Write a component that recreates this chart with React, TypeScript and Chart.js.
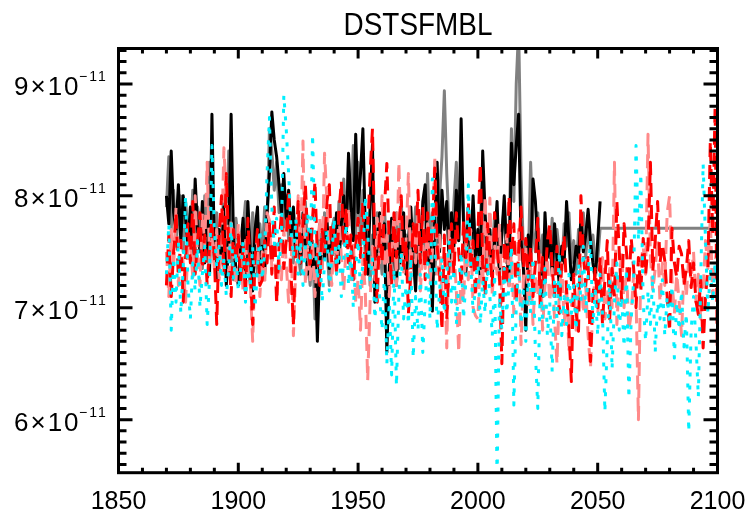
import React, { useEffect, useRef } from "react";
import { Chart, registerables } from "chart.js";

Chart.register(...registerables);

// ---------------- data (values in units of 1e-11) ----------------
const TITLE = "DSTSFMBL";
const START_YEAR = 1870;
const X_MIN = 1850;
const X_MAX = 2100;
const Y_MIN = 5.526;
const Y_MAX = 9.317;
const X_TICK_LABELS = [1850, 1900, 1950, 2000, 2050, 2100];
const Y_TICK_LABELS = [6, 7, 8, 9];
const Y_EXPONENT = "−11";

// black solid, 1870-2051
const blackValues = [
  8.00, 7.75, 8.40, 7.85, 7.70, 8.10, 7.60, 8.00, 7.80, 7.55,
  7.90, 7.45, 8.15, 7.70, 7.50, 7.95, 7.40, 7.80, 7.30, 8.73,
  7.50, 7.25, 7.70, 7.40, 7.90, 7.20, 7.60, 8.73, 7.60, 7.35,
  7.20, 7.55, 7.80, 7.25, 7.95, 7.50, 7.15, 7.70, 7.90, 7.30,
  7.55, 7.30, 7.85, 8.20, 8.75, 8.50, 8.35, 8.10, 7.85, 8.20,
  7.80, 8.05, 7.65, 7.90, 7.50, 7.75, 7.40, 7.85, 7.55, 7.30,
  7.70, 7.35, 7.55, 6.70, 7.40, 7.60, 7.45, 7.80, 7.35, 7.65,
  7.50, 7.85, 7.40, 7.75, 8.00, 7.55, 8.38, 7.90, 7.60, 8.55,
  7.85, 8.20, 8.60, 7.70, 7.30, 7.90, 8.46, 7.05, 7.60, 7.85,
  7.50, 7.75, 6.60, 7.35, 7.80, 7.55, 7.20, 7.65, 7.40, 7.85,
  7.30, 7.60, 7.90, 7.45, 7.15, 7.70, 7.50, 7.95, 8.10, 7.40,
  7.65, 6.97, 7.80, 8.30, 7.50, 8.05, 7.70, 7.95, 7.40, 7.85,
  7.55, 8.05, 7.60, 8.69, 7.75, 7.30, 7.90, 7.50, 8.00, 7.45,
  7.70, 7.25, 8.40, 7.85, 7.45, 7.70, 7.30, 7.60, 7.95, 7.35,
  7.65, 8.00, 7.50, 7.20, 8.47, 8.10, 8.45, 8.73, 7.60, 7.35,
  6.80, 7.65, 7.40, 8.15, 7.95, 7.55, 7.30, 7.10, 7.85, 7.45,
  7.65, 7.30, 7.75, 7.45, 7.20, 7.55, 7.40, 7.95, 7.60, 7.25,
  7.35, 7.55, 7.45, 7.80, 7.50, 7.65, 7.88, 7.60, 7.40, 7.25,
  7.60, 7.95,
];

// gray solid, 1870-2051, then held to 2100
const grayValues = [
  7.90, 8.35, 7.70, 8.05, 7.55, 7.85, 8.00, 7.50, 7.95, 7.70,
  7.60, 8.05, 7.45, 7.90, 7.75, 7.35, 8.00, 7.55, 8.30, 7.70,
  7.40, 7.85, 7.30, 7.65, 8.05, 7.45, 8.40, 7.55, 7.25, 7.80,
  7.60, 7.35, 7.70, 7.95, 7.40, 7.20, 7.85, 7.50, 7.30, 7.75,
  7.45, 7.90, 7.65, 8.60, 8.40, 8.05, 8.30, 7.85, 8.10, 7.70,
  8.00, 7.60, 7.85, 7.40, 7.75, 7.50, 7.30, 7.65, 7.95, 7.40,
  7.20, 7.60, 6.90, 7.50, 7.75, 7.35, 7.85, 7.55, 7.20, 7.70,
  7.80, 7.35, 7.95, 7.60, 8.15, 7.70, 8.35, 7.80, 8.45, 7.65,
  8.30, 7.55, 8.05, 7.45, 7.80, 7.20, 7.65, 7.40, 7.85, 7.55,
  7.30, 7.90, 7.45, 7.70, 7.25, 7.60, 7.85, 7.35, 7.95, 7.50,
  7.65, 7.35, 7.80, 7.55, 7.90, 7.30, 7.75, 7.45, 7.60, 8.20,
  7.50, 7.85, 7.30, 7.70, 8.00, 8.35, 8.94, 8.20, 7.70, 7.45,
  7.95, 8.30, 7.60, 8.20, 7.85, 7.40, 7.75, 7.55, 7.90, 7.35,
  7.60, 7.80, 8.15, 7.50, 7.30, 7.65, 7.45, 7.85, 7.55, 7.25,
  7.70, 7.90, 7.40, 7.65, 8.60, 7.95, 9.00, 9.50, 8.20, 7.50,
  7.60, 7.35, 8.30, 7.70, 7.50, 7.85, 7.40, 7.65, 7.25, 7.55,
  7.45, 7.80, 7.30, 7.70, 7.50, 7.35, 7.75, 7.55, 7.85, 7.40,
  7.60, 7.30, 7.70, 7.55, 7.85, 7.45, 7.75, 7.50, 7.65, 7.40,
  7.42, 7.71,
];
const grayTailYears = [2100];
const grayTailValues = [7.71];

// red dashed, 1870-2100
const redValues = [
  7.20, 7.65, 7.10, 7.50, 7.85, 7.30, 7.60, 7.05, 7.45, 7.75,
  7.40, 7.95, 7.30, 7.60, 7.85, 7.35, 7.65, 7.20, 7.55, 7.80,
  7.45, 6.85, 7.65, 8.00, 7.30, 8.20, 7.55, 7.10, 7.70, 7.40,
  7.65, 7.25, 7.55, 7.10, 7.80, 7.35, 6.85, 7.45, 7.70, 7.20,
  7.25, 7.60, 7.40, 7.75, 7.30, 7.90, 7.05, 7.55, 7.85, 7.35,
  7.60, 8.05, 7.30, 6.85, 7.55, 7.95, 7.40, 7.75, 8.10, 7.60,
  7.35, 7.80, 8.13, 7.45, 7.20, 7.70, 7.50, 7.95, 8.10, 7.40,
  7.75, 7.30, 7.85, 8.13, 7.55, 7.90, 7.40, 7.65, 7.25, 7.55,
  7.80, 7.45, 7.95, 7.30, 7.70, 8.20, 8.60, 7.50, 7.05, 7.75,
  7.40, 7.90, 8.29, 7.55, 7.20, 7.85, 7.45, 7.70, 8.00, 7.35,
  7.60, 6.95, 7.30, 7.75, 7.50, 8.05, 7.40, 7.90, 7.25, 7.85,
  7.45, 7.70, 8.25, 7.55, 7.30, 6.80, 7.65, 6.90, 7.40, 7.75,
  7.30, 7.85, 7.50, 7.20, 7.78, 7.45, 7.95, 7.35, 7.60, 7.10,
  7.65, 8.29, 7.40, 7.10, 7.75, 7.50, 7.20, 7.85, 7.53, 7.30,
  6.50, 7.60, 7.20, 8.00, 7.45, 7.75, 7.05, 7.50, 7.90, 7.35,
  7.62, 7.25, 7.55, 7.10, 7.40, 7.80, 7.03, 7.45, 7.20, 7.60,
  7.75, 7.35, 7.10, 7.55, 6.95, 7.40, 7.65, 7.15, 6.80, 6.34,
  7.30, 6.95, 6.79, 8.00, 7.50, 7.20, 7.45, 6.52, 7.10, 7.35,
  7.00, 7.45, 6.85, 7.25, 7.60, 6.90, 7.35, 7.10, 7.95, 7.50,
  7.06, 7.75, 7.50, 7.20, 7.62, 7.35, 7.00, 7.45, 7.15, 7.62,
  7.30, 7.55, 8.30, 7.33, 7.60, 7.95, 7.40, 7.57, 7.42, 7.10,
  6.79, 7.71, 7.40, 7.27, 7.55, 7.48, 7.20, 7.35, 7.60, 7.18,
  7.40, 7.06, 6.94, 7.25, 6.64, 7.10, 7.35, 8.49, 7.66, 8.80,
  6.40,
];

// light red dashed, 1870-2100
const pinkValues = [
  7.50, 7.10, 7.70, 7.35, 7.90, 7.20, 7.60, 7.40, 7.05, 7.55,
  7.60, 7.27, 8.00, 7.45, 7.20, 7.85, 7.55, 8.30, 7.40, 7.65,
  7.35, 7.70, 7.25, 7.55, 8.43, 7.95, 7.30, 7.80, 7.50, 7.20,
  7.75, 7.45, 7.15, 7.60, 7.30, 7.21, 6.70, 7.40, 7.65, 7.10,
  7.50, 7.20, 7.85, 7.78, 7.35, 7.60, 7.03, 7.45, 7.25, 7.70,
  7.40, 7.05, 7.65, 6.75, 7.35, 8.00, 7.50, 8.49, 7.20, 7.55,
  7.25, 7.60, 7.10, 7.45, 7.80, 7.35, 8.38, 7.95, 7.50, 7.20,
  7.65, 7.30, 7.85, 7.45, 7.15, 7.55, 7.90, 7.25, 7.60, 7.05,
  7.26, 6.80, 7.45, 7.15, 6.35, 7.05, 7.55, 7.25, 7.80, 7.40,
  8.00, 7.35, 7.65, 7.10, 7.50, 7.85, 7.20, 8.30, 7.55, 7.30,
  7.60, 8.20, 7.25, 7.70, 7.40, 7.85, 7.15, 7.55, 7.35, 7.75,
  7.20, 7.50, 8.36, 7.30, 7.65, 7.05, 7.45, 6.64, 7.70, 7.30,
  7.55, 7.15, 6.60, 7.40, 7.05, 7.60, 7.25, 7.70, 7.00, 6.93,
  6.90, 7.45, 7.20, 8.00, 7.35, 7.98, 7.10, 7.55, 7.30, 7.75,
  7.05, 7.40, 7.65, 7.15, 7.50, 6.95, 7.35, 7.70, 6.67, 7.25,
  7.55, 7.00, 7.40, 6.85, 7.30, 7.10, 7.50, 6.80, 7.20, 7.45,
  7.05, 7.35, 6.90, 6.50, 7.15, 7.40, 6.85, 7.20, 6.60, 7.00,
  7.25, 6.80, 7.10, 7.40, 6.95, 7.20, 6.75, 6.46, 7.05, 7.30,
  6.95, 7.20, 7.45, 6.90, 7.10, 7.35, 7.00, 8.30, 6.85, 7.25,
  7.50, 7.00, 7.35, 6.80, 6.95, 7.30, 7.10, 6.00, 7.40, 7.55,
  7.30, 8.55, 7.45, 7.15, 7.35, 7.60, 7.05, 7.40, 7.20, 7.85,
  8.00, 7.25, 6.95, 7.30, 7.05, 6.75, 7.35, 7.10, 7.45, 7.25,
  7.50, 7.05, 7.30, 6.90, 7.15, 7.60, 7.35, 7.80, 7.10, 7.40,
  7.55,
];

// cyan dotted, 1870-2100
const cyanValues = [
  7.30, 7.75, 6.80, 7.45, 7.05, 7.60, 6.95, 7.35, 8.00, 7.20,
  6.90, 7.40, 7.15, 7.60, 7.00, 7.30, 7.55, 6.85, 7.25, 8.45,
  7.70, 7.35, 7.55, 7.20, 7.45, 7.10, 7.35, 7.75, 7.25, 7.50,
  7.15, 7.35, 7.60, 7.05, 7.40, 7.20, 7.55, 7.00, 7.35, 7.70,
  7.25, 7.50, 8.20, 8.70, 7.90, 7.55, 7.80, 7.35, 7.65, 8.90,
  8.60, 8.20, 7.70, 7.45, 7.80, 7.30, 7.60, 7.20, 7.55, 7.85,
  7.40, 8.55, 7.60, 7.25, 7.50, 7.05, 7.40, 7.70, 7.15, 7.45,
  7.80, 7.30, 7.55, 7.10, 7.45, 7.75, 7.20, 7.50, 7.00, 7.35,
  7.60, 7.15, 7.40, 8.00, 7.70, 7.25, 7.45, 6.90, 7.20, 7.10,
  6.80, 7.30, 6.50, 7.05, 6.40, 7.35, 6.30, 7.10, 7.50, 6.90,
  7.20, 6.85, 7.45, 6.55, 7.10, 6.80, 7.30, 6.60, 7.05, 7.40,
  6.90, 8.15, 7.55, 6.80, 7.15, 7.45, 6.95, 7.30, 7.60, 7.05,
  7.35, 6.85, 7.20, 7.50, 6.90, 7.25, 8.10, 7.40, 6.95, 7.20,
  7.45, 6.85, 7.25, 6.95, 7.40, 7.10, 6.75, 7.30, 5.45, 7.10,
  6.80, 7.35, 6.95, 7.20, 7.55, 6.13, 7.00, 7.40, 6.85, 7.15,
  6.70, 7.30, 6.95, 7.45, 6.60, 6.10, 7.20, 6.90, 7.35, 6.75,
  7.05, 6.43, 7.25, 6.90, 7.50, 6.75, 7.10, 6.85, 7.30, 6.95,
  7.20, 6.80, 7.40, 7.05, 7.55, 6.95, 7.30, 7.60, 6.85, 7.15,
  6.75, 7.30, 6.95, 6.07, 6.70, 7.25, 6.45, 7.05, 7.40, 6.80,
  7.10, 6.65, 7.35, 6.19, 6.90, 7.25, 8.45, 7.60, 8.20, 7.05,
  6.70, 7.15, 6.85, 7.30, 6.60, 7.05, 6.90, 7.25, 6.75, 7.10,
  6.85, 7.20, 6.55, 7.05, 6.80, 7.15, 6.65, 6.95, 5.89, 6.80,
  7.10, 6.70, 6.20, 7.25, 8.29, 7.60, 6.95, 7.35, 7.05, 7.40,
  7.20,
];

// ---------------- helpers ----------------
const toPoints = (values: number[], start: number) =>
  values.map((v, i) => ({ x: start + i, y: v }));

const FONT = '"Liberation Sans", Arial, Helvetica, sans-serif';

const framePlugin = {
  id: "idlFrame",
  afterDatasetsDraw(chart: any) {
    const { ctx, chartArea: a, scales } = chart;
    const xs = scales.x;
    const ys = scales.y;
    ctx.save();
    ctx.strokeStyle = "#000";
    ctx.fillStyle = "#000";
    ctx.lineWidth = 3;
    ctx.lineCap = "butt";

    // frame
    ctx.strokeRect(a.left, a.top, a.right - a.left, a.bottom - a.top);

    // x ticks (minor every 10 years, major every 50)
    for (let yr = X_MIN; yr <= X_MAX; yr += 10) {
      const px = xs.getPixelForValue(yr);
      const major = (yr - X_MIN) % 50 === 0;
      const len = major ? 10 : 5;
      ctx.beginPath();
      ctx.moveTo(px, a.bottom);
      ctx.lineTo(px, a.bottom - len);
      ctx.moveTo(px, a.top);
      ctx.lineTo(px, a.top + len);
      ctx.stroke();
    }

    // y ticks (minor every 0.1, major every 1)
    for (let k = Math.ceil(Y_MIN * 10); k <= Math.floor(Y_MAX * 10); k++) {
      const py = ys.getPixelForValue(k / 10);
      const major = k % 10 === 0;
      const len = major ? 14 : 8;
      ctx.beginPath();
      ctx.moveTo(a.left, py);
      ctx.lineTo(a.left + len, py);
      ctx.moveTo(a.right, py);
      ctx.lineTo(a.right - len, py);
      ctx.stroke();
    }

    // x labels
    ctx.font = `25px ${FONT}`;
    ctx.textAlign = "center";
    ctx.textBaseline = "alphabetic";
    X_TICK_LABELS.forEach((yr) => {
      ctx.fillText(String(yr), xs.getPixelForValue(yr), a.bottom + 36);
    });

    // y labels: "N×10" + superscript exponent
    Y_TICK_LABELS.forEach((v) => {
      const py = ys.getPixelForValue(v);
      ctx.textAlign = "left";
      // superscript
      ctx.font = `14px ${FONT}`;
      (ctx as any).letterSpacing = "2px";
      ctx.fillText(Y_EXPONENT, 79, py - 3);
      // mantissa
      ctx.font = `26px ${FONT}`;
      (ctx as any).letterSpacing = "2px";
      ctx.fillText(`${v}×10`, 14, py + 11);
      (ctx as any).letterSpacing = "0px";
    });

    // title
    ctx.font = `31px ${FONT}`;
    ctx.textAlign = "center";
    const cx = (a.left + a.right) / 2;
    ctx.translate(cx, 35);
    ctx.scale(0.9, 1);
    ctx.fillText(TITLE, 0, 0);
    ctx.restore();
  },
};

export default function App() {
  const canvasRef = useRef<HTMLCanvasElement | null>(null);

  useEffect(() => {
    const canvas = canvasRef.current;
    if (!canvas) return;
    const common = {
      pointRadius: 0,
      borderWidth: 3,
      tension: 0,
      fill: false,
      borderJoinStyle: "round" as const,
    };
    const chart = new Chart(canvas, {
      type: "line",
      data: {
        datasets: [
          {
            ...common,
            label: "cyan",
            data: toPoints(cyanValues, START_YEAR),
            borderColor: "#00f0ff",
            borderDash: [4, 9],
          },
          {
            ...common,
            label: "red",
            data: toPoints(redValues, START_YEAR),
            borderColor: "#ff0000",
            borderDash: [14, 8],
          },
          {
            ...common,
            label: "pink",
            data: toPoints(pinkValues, START_YEAR),
            borderColor: "#ff8a8a",
            borderDash: [14, 8],
          },
          {
            ...common,
            label: "black",
            data: toPoints(blackValues, START_YEAR),
            borderColor: "#000000",
          },
          {
            ...common,
            label: "gray",
            data: [
              ...toPoints(grayValues, START_YEAR),
              ...grayTailYears.map((yr, i) => ({ x: yr, y: grayTailValues[i] })),
            ],
            borderColor: "#808080",
          },
        ],
      },
      options: {
        animation: false,
        responsive: false,
        devicePixelRatio: 1,
        events: [],
        layout: {
          padding: { left: 118.5, right: 35.5, top: 48.5, bottom: 41.3 },
        },
        plugins: {
          legend: { display: false },
          tooltip: { enabled: false },
          title: { display: false },
        },
        scales: {
          x: { type: "linear", min: X_MIN, max: X_MAX, display: false },
          y: { type: "linear", min: Y_MIN, max: Y_MAX, display: false },
        },
      },
      plugins: [framePlugin],
    });
    return () => chart.destroy();
  }, []);

  return (
    <div
      style={{
        position: "absolute",
        left: 0,
        top: 0,
        width: 753,
        height: 514,
        background: "#fff",
      }}
    >
      <canvas ref={canvasRef} width={753} height={514} />
    </div>
  );
}
